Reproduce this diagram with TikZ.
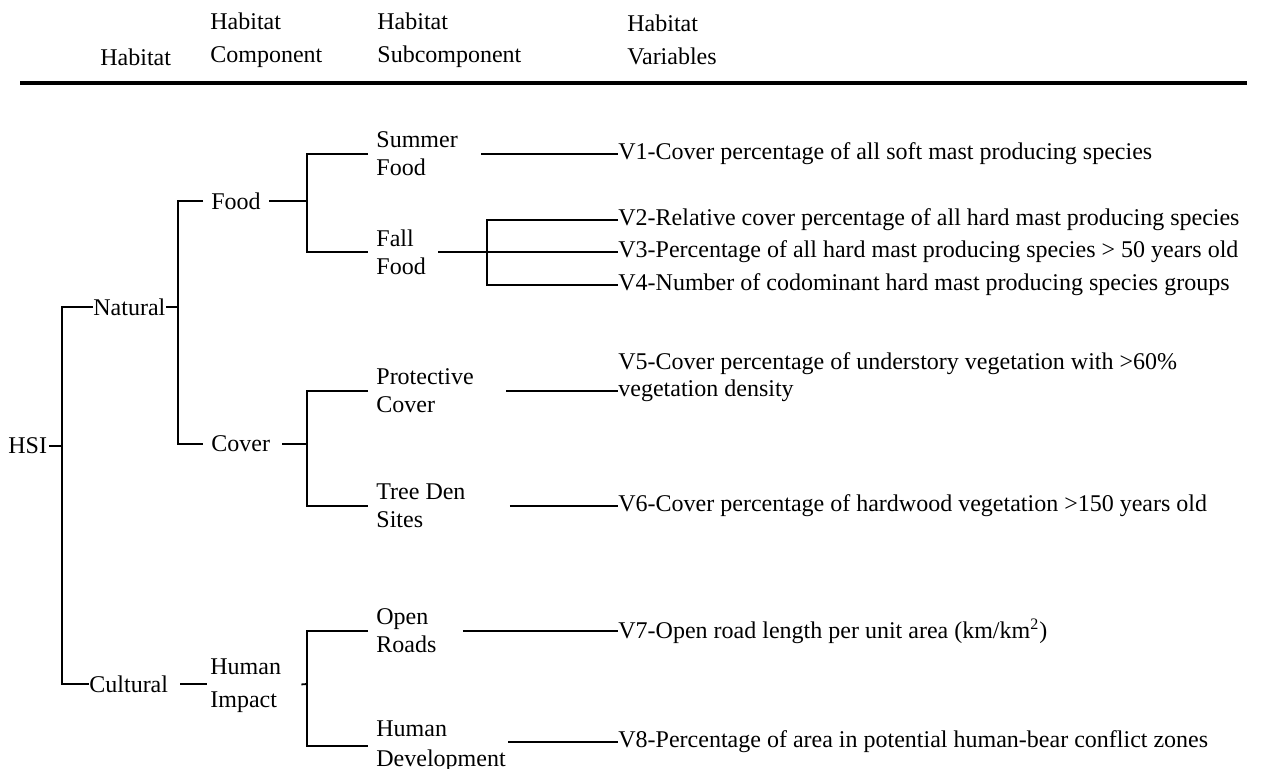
\documentclass[tikz,border=0pt]{standalone}
\usepackage{fontspec}
\setmainfont{Liberation Serif}
\usetikzlibrary{calc}

\begin{document}
\begin{tikzpicture}[x=0.5pt,y=-0.5pt,
  lbl/.style={anchor=west,inner sep=0pt,align=left,font=\fontsize{12}{14}\selectfont},
  headlbl/.style={lbl,font=\fontsize{12}{16.5}\selectfont},
  branch/.style={line width=0.9pt},
  gapl/.style={shorten <=#1},
  gapr/.style={shorten >=#1}]

  \useasboundingbox (0,0) rectangle (1267,769);

  % column heads
  \node[headlbl] (head1) at (100,57) {Habitat};
  \node[headlbl] (head2) at (210,40) {Habitat\\Component};
  \node[headlbl] (head3) at (377,40) {Habitat\\Subcomponent};
  \node[headlbl] (head4) at (627,40) {Habitat\\Variables};
  \draw[line width=1.8pt] (20,83) -- (1247,83);

  % tree
  \node[lbl] (hsi) at (8,446) {HSI};
  \node[lbl] (natural) at (93,307) {Natural};
  \node[lbl] (cultural) at (89,684) {Cultural};

  \node[lbl] (food) at (211,201) {Food};
  \node[lbl] (cover) at (211,444) {Cover};
  \node[lbl] (impact) at (210,686) {Human\\[2.5pt]Impact};

  \node[lbl] (summer) at (376,154) {Summer\\Food};
  \node[lbl] (fall) at (376,252) {Fall\\Food};
  \node[lbl] (protect) at (376,391) {Protective\\Cover};
  \node[lbl] (treeden) at (376,506) {Tree Den\\Sites};
  \node[lbl] (roads) at (376,631) {Open\\Roads};
  \node[lbl] (humdev) at (376,746) {Human\\[1pt]Development};

  \node[lbl] (v1) at (618,154) {V1-Cover percentage of all soft mast producing species};
  \node[lbl] (v2) at (618,220) {V2-Relative cover percentage of all hard mast producing species};
  \node[lbl] (v3) at (618,252) {V3-Percentage of all hard mast producing species > 50 years old};
  \node[lbl] (v4) at (618,285) {V4-Number of codominant hard mast producing species groups};
  \node[lbl,anchor=base west,font=\fontsize{12}{13.5}\selectfont] (v5) at (618,397)
    {V5-Cover percentage of understory vegetation with >60\%\\vegetation density};
  \node[lbl] (v6) at (618,506) {V6-Cover percentage of hardwood vegetation >150 years old};
  \node[lbl] (v7) at (618,631) {V7-Open road length per unit area (km/km\textsuperscript{2})};
  \node[lbl] (v8) at (618,742) {V8-Percentage of area in potential human-bear conflict zones};

  \coordinate (j0) at (62,446);
  \coordinate (j1) at (178,307);
  \coordinate (j2) at (307,201);
  \coordinate (j3) at (307,444);
  \coordinate (j4) at (307,684);
  \coordinate (j5) at (487,252);

  \draw[branch,gapl=1pt] (hsi.east) -- (j0);
  \draw[branch] (natural.west) -| (j0) |- (cultural.west);

  \draw[branch] (natural.east) -- (j1);
  \draw[branch,gapl=4pt,gapr=4pt] (food.west) -| (j1) |- (cover.west);
  \draw[branch,gapl=6pt,gapr=1.5pt] (cultural.east) -- (cultural.east -| impact.west);

  \draw[branch,gapl=4pt] (food.east) -- (j2);
  \draw[branch,gapl=4pt,gapr=4pt] (summer.west) -| (j2) |- (fall.west);
  \draw[branch,gapl=6pt] (cover.east) -- (j3);
  \draw[branch,gapl=4pt,gapr=4pt] (protect.west) -| (j3) |- (treeden.west);
  \draw[branch,gapl=10pt] (impact.east) -- (j4);
  \draw[branch,gapl=4pt,gapr=4pt] (roads.west) -| (j4) |- (humdev.west);

  \draw[branch,gapl=11.5pt] (summer.east) -- (v1.west);
  \draw[branch,gapl=6pt] (fall.east) -- (v3.west);
  \draw[branch] (v2.west) -| (j5) |- (v4.west);
  \draw[branch,gapl=16pt] (protect.east |- 0,391) -- (v5.west |- 0,391);
  \draw[branch,gapl=22pt] (treeden.east) -- (v6.west);
  \draw[branch,gapl=13pt] (roads.east) -- (v7.west);
  \draw[branch,gapl=1pt] (humdev.east |- 0,742) -- (v8.west);
\end{tikzpicture}
\end{document}
